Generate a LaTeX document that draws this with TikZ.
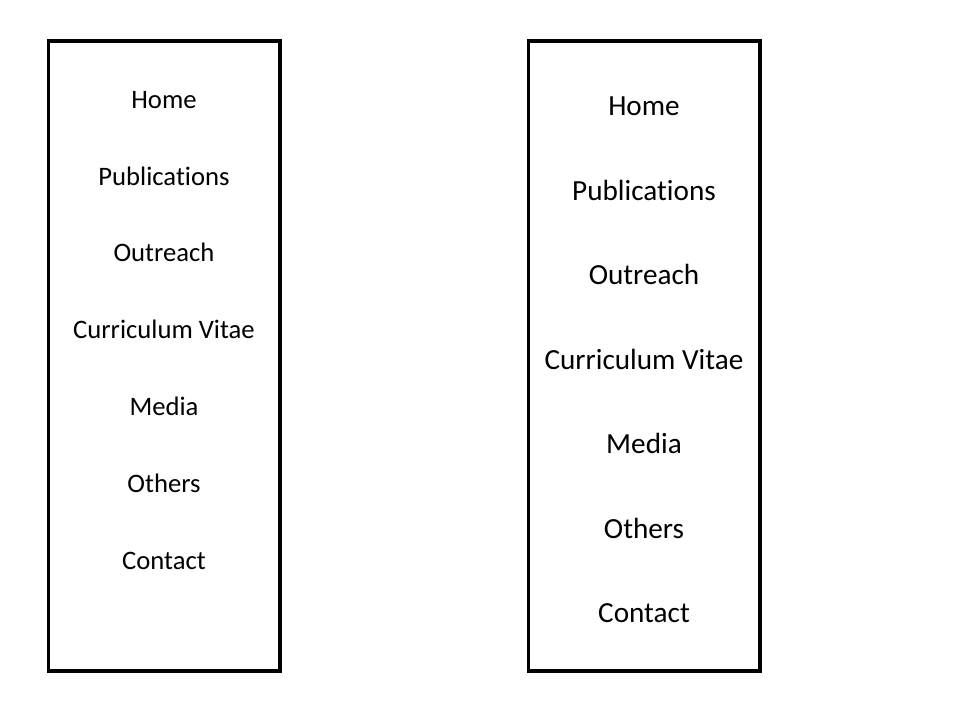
\documentclass[tikz,border=0pt]{standalone}
\usepackage{fontspec}
\setmainfont[Ligatures={NoCommon,NoContextual}]{Carlito}
\begin{document}
\begin{tikzpicture}[x=0.75pt,y=-0.75pt,
  menubox/.style={draw=black,line width=2.5pt},
  itemsmall/.style={anchor=base,inner sep=0pt,font=\fontsize{20pt}{22pt}\selectfont},
  itemlarge/.style={anchor=base,inner sep=0pt,font=\fontsize{21.9pt}{24pt}\selectfont}]
  \useasboundingbox[fill=white] (0,0) rectangle (960,720);
  % two menu panels
  \draw[menubox] (48.5,41) rectangle (280,671);
  \draw[menubox] (528.5,41) rectangle (760,671);
  % left panel entries
  \foreach \t [count=\i from 0] in {Home,Publications,Outreach,Curriculum Vitae,Media,Others,Contact}
    \node[itemsmall] (l\i) at (164,108.3+76.8*\i) {\t};
  % right panel entries
  \foreach \t [count=\i from 0] in {Home,Publications,Outreach,Curriculum Vitae,Media,Others,Contact}
    \node[itemlarge] (r\i) at (644,115.7+84.5*\i) {\t};
\end{tikzpicture}
\end{document}
